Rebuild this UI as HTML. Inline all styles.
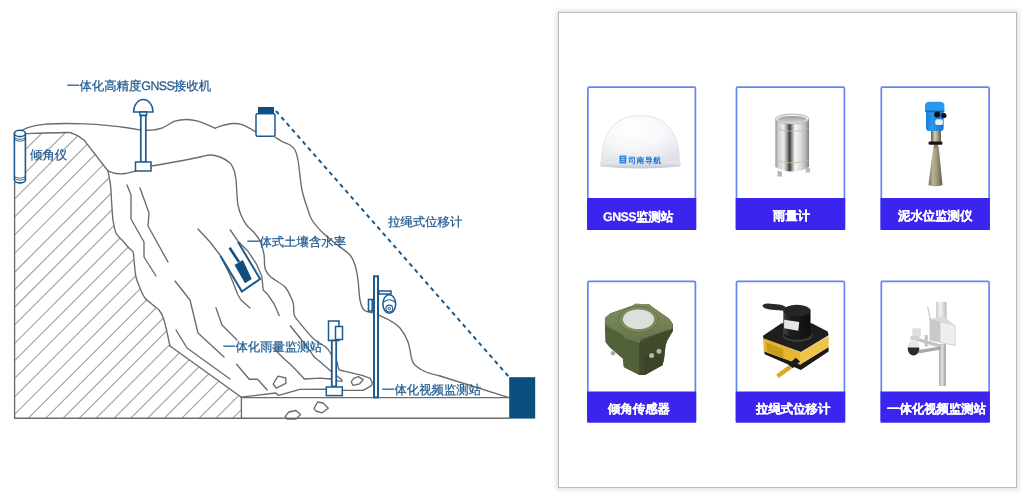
<!DOCTYPE html>
<html><head><meta charset="utf-8">
<style>
html,body{margin:0;padding:0;background:#fff;}
body{width:1036px;height:500px;position:relative;overflow:hidden;font-family:"Liberation Sans",sans-serif;}
#dia{position:absolute;left:0;top:0;}
.lbl{position:absolute;color:#1f5b90;-webkit-text-stroke:0.25px #1f5b90;will-change:transform;font-size:12.4px;line-height:12px;text-rendering:geometricPrecision;white-space:nowrap;}
#panel{position:absolute;left:558px;top:12px;width:457px;height:474px;border:1px solid #bababa;box-shadow:0 0 4px 2px rgba(0,0,0,0.11);background:#fff;}
.card{position:absolute;width:106px;border:1.6px solid #6482f6;border-radius:1.5px;background:#fff;}
.bar{position:absolute;width:109.2px;background:#3a24ee;}
.bt{position:absolute;color:#fff;will-change:transform;-webkit-text-stroke:0.2px #fff;font-weight:bold;font-size:12.4px;line-height:12px;text-rendering:geometricPrecision;white-space:nowrap;}
.prod{position:absolute;}
</style></head>
<body>
<svg id="dia" width="560" height="500" viewBox="0 0 560 500">
<defs><clipPath id="hc"><polygon points="14.6,133.6 24.9,133.6 66.8,132.5 72,133.5 77.6,135.6 84.3,140.4 108,171 110.5,185 111.5,200 113,220 116,233 122,240 128,247 133,252 134,260 136,277 140,288 145,298 153,305 159,310 163,317 166,328 170,346 241.4,397.2 241.4,418.2 14.6,418.2"/></clipPath></defs>
<g clip-path="url(#hc)" stroke="#a2a2a2" stroke-width="1.15"><line x1="0" y1="175.0" x2="175.0" y2="0"/><line x1="0" y1="198.0" x2="198.0" y2="0"/><line x1="0" y1="213.5" x2="213.5" y2="0"/><line x1="0" y1="231.5" x2="231.5" y2="0"/><line x1="0" y1="249.5" x2="249.5" y2="0"/><line x1="0" y1="268.0" x2="268.0" y2="0"/><line x1="0" y1="286.9" x2="286.9" y2="0"/><line x1="0" y1="304.4" x2="304.4" y2="0"/><line x1="0" y1="321.9" x2="321.9" y2="0"/><line x1="0" y1="339.5" x2="339.5" y2="0"/><line x1="0" y1="358.0" x2="358.0" y2="0"/><line x1="0" y1="375.3" x2="375.3" y2="0"/><line x1="0" y1="393.0" x2="393.0" y2="0"/><line x1="0" y1="411.5" x2="411.5" y2="0"/><line x1="0" y1="429.0" x2="429.0" y2="0"/><line x1="0" y1="446.5" x2="446.5" y2="0"/><line x1="0" y1="463.9" x2="463.9" y2="0"/><line x1="0" y1="481.3" x2="481.3" y2="0"/><line x1="0" y1="497.5" x2="497.5" y2="0"/><line x1="0" y1="514.3" x2="514.3" y2="0"/><line x1="0" y1="532.3" x2="532.3" y2="0"/><line x1="0" y1="549.0" x2="549.0" y2="0"/><line x1="0" y1="565.8" x2="565.8" y2="0"/><line x1="0" y1="582.6" x2="582.6" y2="0"/><line x1="0" y1="600.0" x2="600.0" y2="0"/><line x1="0" y1="617.4" x2="617.4" y2="0"/><line x1="0" y1="634.2" x2="634.2" y2="0"/><line x1="0" y1="651.0" x2="651.0" y2="0"/></g>
<g fill="none" stroke="#6b6b6b" stroke-width="1.35" stroke-linejoin="round" stroke-linecap="round"><path d="M22.2,130.2 C23.6,129.6 26.7,127.9 30.3,126.9 C33.9,125.9 38.2,125.0 43.8,124.4 C49.4,123.8 57.2,123.6 64.0,123.5 C70.8,123.4 77.5,123.6 84.3,123.9 C91.1,124.2 97.8,124.5 104.6,125.1 C111.4,125.7 119.0,126.7 124.9,127.5 C130.8,128.3 137.5,129.6 140.0,130.0"/><path d="M146.4,130.3 C147.7,130.2 151.1,130.4 153.9,129.9 C156.7,129.4 159.7,129.0 163.2,127.6 C166.7,126.1 170.9,122.5 174.8,121.2 C178.7,119.9 182.6,119.5 186.4,119.5 C190.2,119.5 193.1,119.8 197.9,121.2 C202.7,122.7 212.4,127.0 215.3,128.2"/><path d="M215.3,128.2 C216.3,127.8 218.2,126.7 221.1,125.9 C224.0,125.1 229.2,123.7 232.7,123.5 C236.2,123.3 238.1,123.3 242.0,124.7 C245.9,126.1 253.6,130.5 255.9,131.7"/><path d="M275.0,137.0 C276.3,137.8 280.5,140.7 283.0,142.0 C285.5,143.3 288.0,143.7 290.0,145.0 C292.0,146.3 293.7,147.5 295.0,150.0 C296.3,152.5 296.8,153.3 298.0,160.0 C299.2,166.7 300.3,181.7 302.0,190.0 C303.7,198.3 306.3,205.0 308.0,210.0 C309.7,215.0 309.7,216.3 312.0,220.0 C314.3,223.7 318.0,228.0 322.0,232.0 C326.0,236.0 331.3,240.2 336.0,244.0 C340.7,247.8 346.8,251.5 350.0,255.0 C353.2,258.5 353.7,260.8 355.0,265.0 C356.3,269.2 357.2,274.2 358.0,280.0 C358.8,285.8 359.0,295.0 360.0,300.0 C361.0,305.0 361.8,307.8 364.0,310.0 C366.2,312.2 371.9,312.5 373.5,313.0"/><path d="M378.5,315.0 C380.2,315.8 385.4,317.8 389.0,320.0 C392.6,322.2 396.8,324.3 400.0,328.0 C403.2,331.7 406.0,336.7 408.0,342.0 C410.0,347.3 410.7,356.0 412.0,360.0 C413.3,364.0 413.7,364.0 416.0,366.0 C418.3,368.0 422.0,370.3 426.0,372.0 C430.0,373.7 437.7,375.3 440.0,376.0"/><path d="M108.0,171.0 C108.4,173.3 109.9,180.2 110.5,185.0 C111.1,189.8 111.1,194.2 111.5,200.0 C111.9,205.8 112.2,214.5 113.0,220.0 C113.8,225.5 114.5,229.7 116.0,233.0 C117.5,236.3 120.0,237.7 122.0,240.0 C124.0,242.3 126.2,245.0 128.0,247.0 C129.8,249.0 132.0,249.8 133.0,252.0 C134.0,254.2 133.5,255.8 134.0,260.0 C134.5,264.2 135.0,272.3 136.0,277.0 C137.0,281.7 138.5,284.5 140.0,288.0 C141.5,291.5 142.8,295.2 145.0,298.0 C147.2,300.8 150.7,303.0 153.0,305.0 C155.3,307.0 157.3,308.0 159.0,310.0 C160.7,312.0 161.8,314.0 163.0,317.0 C164.2,320.0 164.8,323.2 166.0,328.0 C167.2,332.8 169.3,343.0 170.0,346.0"/><path d="M24.9,133.6 C31.9,133.4 58.9,132.5 66.8,132.5 C74.6,132.5 70.2,133.0 72.0,133.5 C73.8,134.0 75.5,134.4 77.6,135.6 C79.6,136.8 83.2,139.6 84.3,140.4"/><path d="M108.0,171.0 C109.3,171.4 113.2,173.1 116.0,173.5 C118.8,173.9 121.8,173.9 125.0,173.5 C128.2,173.1 133.8,171.4 135.5,171.0"/><path d="M151.6,166.0 C156.3,165.2 171.9,162.5 180.0,161.0 C188.1,159.5 195.0,158.0 200.0,157.0 C205.0,156.0 206.7,155.0 210.0,155.0 C213.3,155.0 216.7,155.7 220.0,157.0 C223.3,158.3 227.7,160.8 230.0,163.0 C232.3,165.2 233.0,167.2 234.0,170.0 C235.0,172.8 235.5,175.8 236.0,180.0 C236.5,184.2 236.7,190.8 237.0,195.0 C237.3,199.2 237.3,201.7 238.0,205.0 C238.7,208.3 239.6,211.7 241.0,215.0 C242.4,218.3 244.3,222.1 246.5,225.0 C248.7,227.9 251.8,229.8 254.0,232.5 C256.2,235.2 258.4,237.4 260.0,241.0 C261.6,244.6 263.0,249.1 263.9,253.8 C264.8,258.5 264.0,265.2 265.3,269.2 C266.6,273.2 268.3,274.6 271.6,277.6 C274.9,280.6 281.6,283.3 285.0,287.0 C288.4,290.7 290.6,296.4 292.0,299.6 C293.4,302.8 293.2,303.3 293.6,306.0 C294.0,308.7 293.1,312.4 294.4,315.6 C295.7,318.8 298.3,321.2 301.6,325.2 C304.9,329.2 310.3,335.9 314.4,339.6 C318.5,343.3 323.2,344.8 326.0,347.2 C328.8,349.6 330.2,352.9 331.0,354.0"/><path d="M170,346 L241.4,397.2"/><path d="M84.3,140.4 L108,171"/><path d="M14.6,183 L14.6,418.2 L509,418.2"/><path d="M241.4,397.2 L241.4,418.2"/><path d="M241.4,397.6 L509,397.6"/><path d="M440,376 L509,397.6"/><path d="M337,361.6 L338,366.4 L339.2,370 L345.2,371.4 L362,375.4 L370.4,378.4 L372.2,382.6 L371.6,385.6 L363.2,390.4 L342.8,390.4"/><path d="M241.4,397.2 L275.6,393 L278.6,395.4 L300,389.4 L326,389.2"/><path d="M127,185 L131,195 L131,219 L144,242 L144,257 L156,276"/><path d="M140,188 L149,213 L148,226 L168,262"/><path d="M175,281 L190,300 L198,333 L224,357"/><path d="M176,330 L187,348 L230,379"/><path d="M198,229 L210,242 L220,255 L230,275 L238,295 L241,300 L250,308"/><path d="M216,308 L222,325 L237,340"/><path d="M236.6,364.2 L249.2,379.2 L257.6,379.2 L267.2,390"/><path d="M230.3,230 L238,241.2 L247.8,251 L256.2,263.6 L261.8,276.2 L263.2,290 L268,294.8 L274.4,304.4 L279.2,315.6"/><path d="M290.4,326 L300,338 L309.2,349.6 L314,356.8 L321.2,362.8 L331,371.2"/><path d="M337,376 L341.6,379.6 L342.2,381.4 L338,380.8 L331,379"/><path d="M272.8,347.6 L284,358.8 L290,364 L297.2,371.2 L304.4,379 L320,378.2 L331,379"/><polygon points="273.2,384 278,376.2 285.8,378 285.8,383.4 276.2,388.2"/><polygon points="351.2,382 353.6,378.4 358.4,376.6 363.2,379.6 359.6,383.8 353,385.4"/><polygon points="314,408.3 317.6,402 323,403 328.3,408.3 322,412.8 315.8,411"/><polygon points="285.2,416.4 288.8,412 296,410.5 300.5,414.6 296,419 287,419"/></g>
<line x1="276" y1="111" x2="509" y2="377" stroke="#1b5a8c" stroke-width="2" stroke-dasharray="4.2 3.9"/>
<g fill="#fff" stroke="#1d5a8e" stroke-width="1.5">
<path d="M14.4,133.4 L14.4,180 A5.5,2.9 0 0 0 25.4,180 L25.4,133.4 Z" stroke-width="1.6"/>
<ellipse cx="19.9" cy="133.4" rx="5.5" ry="3.2" stroke-width="1.6"/>
<path d="M14.4,136.8 A5.5,2.5 0 0 0 25.4,136.8 M14.4,138.6 A5.5,2.5 0 0 0 25.4,138.6 M14.4,175.6 A5.5,2.5 0 0 0 25.4,175.6 M14.4,177.6 A5.5,2.5 0 0 0 25.4,177.6" fill="none" stroke-width="0.9"/>
<path d="M133.6,112 A9.7,12.6 0 0 1 153,112 Z"/>
<rect x="140" y="112" width="6.5" height="3.5"/>
<rect x="140.8" y="115.5" width="5" height="46.5" stroke-width="1.7"/>
<rect x="135.5" y="162" width="15.5" height="9"/>
<rect x="256" y="113.8" width="19" height="22.5" rx="1.5"/>
<rect x="258" y="107" width="16" height="6.3" fill="#0f4f80" stroke="none"/>
<polyline points="220.5,255.9 241.9,291.6 260.1,279 238,241.9" fill="none" stroke-width="2"/>
<polygon points="234.5,265 242.9,260.1 251.7,279 245,283.2" fill="#0f4f80" stroke="none"/>
<line x1="229.6" y1="247.8" x2="239" y2="262" stroke="#0f4f80" stroke-width="2.6"/>
<rect x="328.5" y="321" width="10.5" height="19.5"/>
<rect x="335.5" y="326.5" width="7" height="13"/>
<rect x="331.8" y="340.5" width="4.4" height="46" stroke-width="1.8"/>
<rect x="326.3" y="387" width="16" height="8.6"/>
<rect x="368.5" y="299.5" width="4.5" height="11.5" stroke-width="1.6"/><line x1="372" y1="299" x2="372" y2="311" stroke-width="1.2"/>
<rect x="374" y="276.3" width="4" height="121" stroke-width="2"/>
<rect x="379" y="291" width="12" height="3"/>
<ellipse cx="389.3" cy="304" rx="6.4" ry="9.3"/>
<path d="M383,302.5 Q389.3,297 395.6,302.5" fill="none" stroke-width="1.1"/>
<circle cx="389.3" cy="308.5" r="3.4" stroke-width="1.1"/>
<circle cx="389.3" cy="308.5" r="1.3" stroke-width="1"/>
</g>
<rect x="509.2" y="377.2" width="26" height="41.4" fill="#0b4f7e"/>
</svg>
<div class="lbl" style="left:67px;top:80px;">一体化高精度<span style="letter-spacing:-0.6px">GNSS</span>接收机</div>
<div class="lbl" style="left:30px;top:149px;">倾角仪</div>
<div class="lbl" style="left:246.5px;top:235.5px;">一体式土壤含水率</div>
<div class="lbl" style="left:388px;top:216px;">拉绳式位移计</div>
<div class="lbl" style="left:223px;top:340.5px;">一体化雨量监测站</div>
<div class="lbl" style="left:382px;top:384px;">一体化视频监测站</div>

<div id="panel"></div>
<svg class="prod" style="left:0;top:0" width="1036" height="500" viewBox="0 0 1036 500"><rect x="587.9" y="87.1" width="107.5" height="142.0" rx="1.2" fill="#fff" stroke="#6585f6" stroke-width="1.7"/><rect x="587.1" y="198" width="109.1" height="32.0" fill="#3a24ee"/><rect x="587.9" y="281.4" width="107.5" height="140.3" rx="1.2" fill="#fff" stroke="#6585f6" stroke-width="1.7"/><rect x="587.1" y="391.5" width="109.1" height="31.1" fill="#3a24ee"/><rect x="736.5" y="87.1" width="107.9" height="142.0" rx="1.2" fill="#fff" stroke="#6585f6" stroke-width="1.7"/><rect x="735.7" y="198" width="109.5" height="32.0" fill="#3a24ee"/><rect x="736.5" y="281.4" width="107.9" height="140.3" rx="1.2" fill="#fff" stroke="#6585f6" stroke-width="1.7"/><rect x="735.7" y="391.5" width="109.5" height="31.1" fill="#3a24ee"/><rect x="881.3" y="87.1" width="107.8" height="142.0" rx="1.2" fill="#fff" stroke="#6585f6" stroke-width="1.7"/><rect x="880.5" y="198" width="109.4" height="32.0" fill="#3a24ee"/><rect x="881.3" y="281.4" width="107.8" height="140.3" rx="1.2" fill="#fff" stroke="#6585f6" stroke-width="1.7"/><rect x="880.5" y="391.5" width="109.4" height="31.1" fill="#3a24ee"/></svg>
<div class="bt" style="left:602.5px;top:210.5px;"><span style="letter-spacing:-0.5px">GNSS</span>监测站</div>
<div class="bt" style="left:773px;top:210px;">雨量计</div>
<div class="bt" style="left:898px;top:210px;">泥水位监测仪</div>
<div class="bt" style="left:608px;top:402.5px;">倾角传感器</div>
<div class="bt" style="left:756px;top:402.5px;">拉绳式位移计</div>
<div class="bt" style="left:886.5px;top:402.5px;">一体化视频监测站</div>
<svg class="prod" style="left:0;top:0" width="1036" height="500" viewBox="0 0 1036 500">
<defs>
<radialGradient id="dome" cx="0.4" cy="0.25" r="0.8">
<stop offset="0" stop-color="#ffffff"/><stop offset="0.55" stop-color="#f6f7f9"/><stop offset="1" stop-color="#dfe3e9"/>
</radialGradient>
<linearGradient id="ring" x1="0" y1="0" x2="0" y2="1"><stop offset="0" stop-color="#e6eaef"/><stop offset="1" stop-color="#bcc6d2"/></linearGradient>
<linearGradient id="steel" x1="0" y1="0" x2="1" y2="0">
<stop offset="0" stop-color="#8e8e8e"/><stop offset="0.08" stop-color="#cfcfcf"/><stop offset="0.25" stop-color="#ececec"/>
<stop offset="0.36" stop-color="#8a8a8a"/><stop offset="0.42" stop-color="#3c3c3c"/><stop offset="0.5" stop-color="#9a9a9a"/>
<stop offset="0.58" stop-color="#f6f6f6"/><stop offset="0.75" stop-color="#dcdcdc"/><stop offset="0.9" stop-color="#b4b4b4"/><stop offset="1" stop-color="#7e7e7e"/>
</linearGradient>
<linearGradient id="inner" x1="0" y1="0" x2="0" y2="1"><stop offset="0" stop-color="#9a9a9a"/><stop offset="1" stop-color="#dadada"/></linearGradient>
<linearGradient id="blue" x1="0" y1="0" x2="1" y2="0"><stop offset="0" stop-color="#1680dc"/><stop offset="0.35" stop-color="#2a9bf2"/><stop offset="1" stop-color="#1570c8"/></linearGradient>
<linearGradient id="horn" x1="0" y1="0" x2="1" y2="0"><stop offset="0" stop-color="#6f6a55"/><stop offset="0.3" stop-color="#b9b398"/><stop offset="0.55" stop-color="#a39d82"/><stop offset="1" stop-color="#625e4b"/></linearGradient>
<linearGradient id="brass" x1="0" y1="0" x2="1" y2="0"><stop offset="0" stop-color="#5e5b4e"/><stop offset="0.4" stop-color="#d6d0b6"/><stop offset="1" stop-color="#5e5a4c"/></linearGradient>
<linearGradient id="olive" x1="0" y1="0" x2="0" y2="1"><stop offset="0" stop-color="#7f8d60"/><stop offset="1" stop-color="#66754a"/></linearGradient>
<linearGradient id="cyl" x1="0" y1="0" x2="1" y2="0"><stop offset="0" stop-color="#454545"/><stop offset="0.25" stop-color="#1e1e1e"/><stop offset="1" stop-color="#0e0e0e"/></linearGradient>
<linearGradient id="pole" x1="0" y1="0" x2="1" y2="0"><stop offset="0" stop-color="#a8a8a8"/><stop offset="0.45" stop-color="#e2e2e2"/><stop offset="1" stop-color="#9a9a9a"/></linearGradient>
<linearGradient id="tcyl" x1="0" y1="0" x2="1" y2="0"><stop offset="0" stop-color="#c8c8c8"/><stop offset="0.4" stop-color="#f2f2f2"/><stop offset="1" stop-color="#bdbdbd"/></linearGradient>
</defs>
<!-- GNSS dome -->
<path d="M601.5,162.5 C601.5,130 617,115.6 640.5,115.6 C664,115.6 679.5,130 679.5,162.5 Z" fill="url(#dome)" stroke="#dfe3e8" stroke-width="1"/>
<path d="M599.7,162 L681,162 L680.3,166.5 Q640.5,170.5 600.6,166.5 Z" fill="url(#ring)"/>
<rect x="619.5" y="155.6" width="6.8" height="7.8" fill="#2e7fe0"/>
<path d="M621,157.4 h3.8 M621,159.4 h3.8 M621,161.4 h3.8" stroke="#cfe2fb" stroke-width="0.8"/>
<text x="628.3" y="163" font-size="7.8" font-weight="bold" fill="#1f6fd2" font-family="Liberation Sans" text-rendering="geometricPrecision" letter-spacing="0.5">司南导航</text>
<!-- rain gauge -->
<path d="M775.4,119 L775.4,167 Q792.2,176 809,167 L809,119 Z" fill="url(#steel)"/>
<ellipse cx="792.2" cy="119" rx="16.8" ry="5" fill="#ececec" stroke="#a8a8a8" stroke-width="0.8"/>
<ellipse cx="792.2" cy="119.6" rx="14.6" ry="3.7" fill="url(#inner)"/>
<path d="M775.6,128.5 Q792.2,134 808.8,128.5" fill="none" stroke="#c8b8a0" stroke-width="0.8"/>
<path d="M775.6,160 Q792.2,166 808.8,160" fill="none" stroke="#c8b8a0" stroke-width="0.8"/>
<path d="M777.5,170.5 L782,172 L782,176.5 L777.5,176.5 Z" fill="#b5b5b5"/>
<path d="M805.5,168 L810,168 L810,172.5 L805.5,172.5 Z" fill="#bdbdbd"/>
<!-- radar level -->
<path d="M933.3,147 L938.7,147 L942.5,185 Q935.5,187.5 928.5,185 Z" fill="url(#horn)"/>
<rect x="933.8" y="143" width="4.4" height="5" fill="#8a8570"/>
<rect x="931" y="129.5" width="10" height="12.5" fill="url(#brass)"/>
<rect x="928.6" y="141.4" width="13.8" height="3.4" rx="1.2" fill="#151515"/>
<rect x="926" y="109" width="17.6" height="22" rx="3" fill="url(#blue)"/>
<path d="M926.5,113 h17 M926.5,116 h17 M926.5,119 h17 M926.5,122 h17 M926.5,125 h17" stroke="#1a6cbc" stroke-width="0.5" opacity="0.6"/>
<path d="M925,111.2 L925,105.5 Q925,101.8 930,101.8 L939.4,101.8 Q944.4,101.8 944.4,105.5 L944.4,111.2 Z" fill="#2a98f0"/>
<line x1="925" y1="111.2" x2="944.4" y2="111.2" stroke="#0f4f94" stroke-width="0.9"/>
<rect x="935.2" y="119.3" width="7.8" height="5.8" rx="2.2" fill="#eef1f4"/>
<circle cx="937.1" cy="114.5" r="3" fill="#111"/>
<circle cx="943.9" cy="115.5" r="2.6" fill="#111"/>
<!-- tilt sensor -->
<polygon points="604.9,322.6 605.7,342.3 609.8,347.2 623.0,358.7 623.8,366.9 639.3,375.0 645.1,375.0 662.3,365.2 663.9,360.3 665.6,345.5 667.2,340.6 673.0,330.8 673.0,324.2 668.9,318.5 652.5,307.0 649.2,304.2 635.2,303.7 632.8,305.4 609.8,313.6" fill="#4b5934"/>
<polygon points="604.9,324.2 606.6,325.9 623.0,334.9 624.6,338.2 639.3,343.1 639.3,375.0 623.8,366.9 623.0,358.7 609.8,347.2 605.7,342.3" fill="#52613a"/>
<polygon points="639.3,343.1 660.7,332.4 673.0,328.3 673.0,330.8 667.2,340.6 665.6,345.5 663.9,360.3 662.3,365.2 645.1,375.0 639.3,375.0" fill="#3f4b2b"/>
<polygon points="644.3,355.4 663.1,346.4 662.6,365.2 645.1,373.7" fill="#3a4527"/>
<polygon points="604.9,317.7 609.8,313.6 632.8,305.4 635.2,303.7 649.2,304.2 652.5,307.0 668.9,318.5 672.1,322.6 673.0,328.3 668.9,330.0 665.6,330.8 660.7,332.4 641.0,339.0 639.3,343.1 624.6,338.2 623.0,334.9 606.6,325.9 604.9,322.6" fill="url(#olive)"/>
<ellipse cx="638.5" cy="319.3" rx="19.5" ry="13" fill="#7c8a5c" stroke="#5f6d44" stroke-width="0.8"/>
<ellipse cx="638.5" cy="319.3" rx="15.6" ry="9.8" fill="#dcdfda"/>
<circle cx="613" cy="353.2" r="2.3" fill="#a9aaa2"/>
<circle cx="651.6" cy="355.4" r="2.5" fill="#b5b6ae"/>
<circle cx="659" cy="351.3" r="2.5" fill="#b5b6ae"/>
<!-- draw wire sensor -->
<polygon points="763.9,350.4 800.9,363.9 828.6,347.1 828.6,351.4 800.9,369.9 764.7,354.3" fill="#1a1a1a"/>
<polygon points="763.0,337.5 800.9,352.6 800.9,364.9 763.9,351.4" fill="#e5b630"/>
<polygon points="766.4,342.5 783.2,349.3 783.2,358.2 766.7,351.4" fill="#c89c1c"/>
<polygon points="800.9,352.6 828.6,336.0 828.6,347.1 800.9,363.9" fill="#f0c446"/>
<polygon points="763.0,335.8 781.5,323.2 811.8,323.2 827.7,331.6 828.6,335.3 800.9,352.1 763.4,338.3" fill="#1e1e1e"/>
<ellipse cx="797.4" cy="335.5" rx="15" ry="6.5" fill="#3a3a3a"/><ellipse cx="797.4" cy="334" rx="14" ry="5.5" fill="#141414"/>
<path d="M783.3,310.6 L783.3,334 Q797.4,342 810.5,334 L810.5,310.6 Z" fill="url(#cyl)"/>
<ellipse cx="796.9" cy="310.6" rx="13.6" ry="5.9" fill="#262626"/>
<path d="M762.5,306 Q763,303.2 768,303.4 L779,304.6 Q785,305.5 787,308.5 L785,310.8 Q778,310.5 772,309.8 Q764,309.3 762.5,306 Z" fill="#2a2a2a"/>
<polygon points="784.1,319.8 799.2,321.9 798.3,330.8 784.1,328.3" fill="#e6e6e6"/>
<polygon points="776.2,374.5 789.1,364.9 791.9,368.6 778.8,378.0" fill="#d4ac2c"/>
<polygon points="788.3,364.4 795.8,357.7 800.0,361.5 792.5,368.3" fill="#1a1a1a"/>
<!-- video station -->
<rect x="939" y="344" width="6.8" height="42" fill="url(#pole)"/>
<rect x="936.1" y="301.7" width="10.5" height="17.5" rx="1" fill="url(#tcyl)"/>
<path d="M929.5,318.8 L940,321.6 L940,342.5 L929.5,340.6 Z" fill="#c9c9c9"/>
<path d="M940,321.6 L955.1,325.4 L955.1,345.4 L940,342.5 Z" fill="#eeeeee" stroke="#c4c4c4" stroke-width="0.7"/>
<path d="M929.5,318.8 L944,316.5 L955.1,325.4 L940,321.6 Z" fill="#dadada"/>
<line x1="927.6" y1="306.4" x2="930.4" y2="319.7" stroke="#999" stroke-width="0.6"/>
<path d="M915.2,337 L940.9,344.5 L940.9,348 L915.2,340.5 Z" fill="#c4c4c4"/>
<path d="M918,350 L940.9,346.5 L940.9,349.5 L918.5,353.5 Z" fill="#a8a8a8"/>
<rect x="924.7" y="335" width="3" height="11.5" fill="#c0c0c0"/>
<rect x="912.4" y="328.3" width="8.5" height="8" fill="#dedede"/>
<rect x="910.5" y="336" width="9" height="4" fill="#d0d0d0"/>
<path d="M907.6,347.5 A5.9,7.5 0 0 1 919.4,347.5 Z" fill="#e6e6e6"/>
<path d="M907.6,347.5 A5.9,8 0 0 0 919.4,347.5 Z" fill="#2a2a2a"/>
</svg>
</body></html>
